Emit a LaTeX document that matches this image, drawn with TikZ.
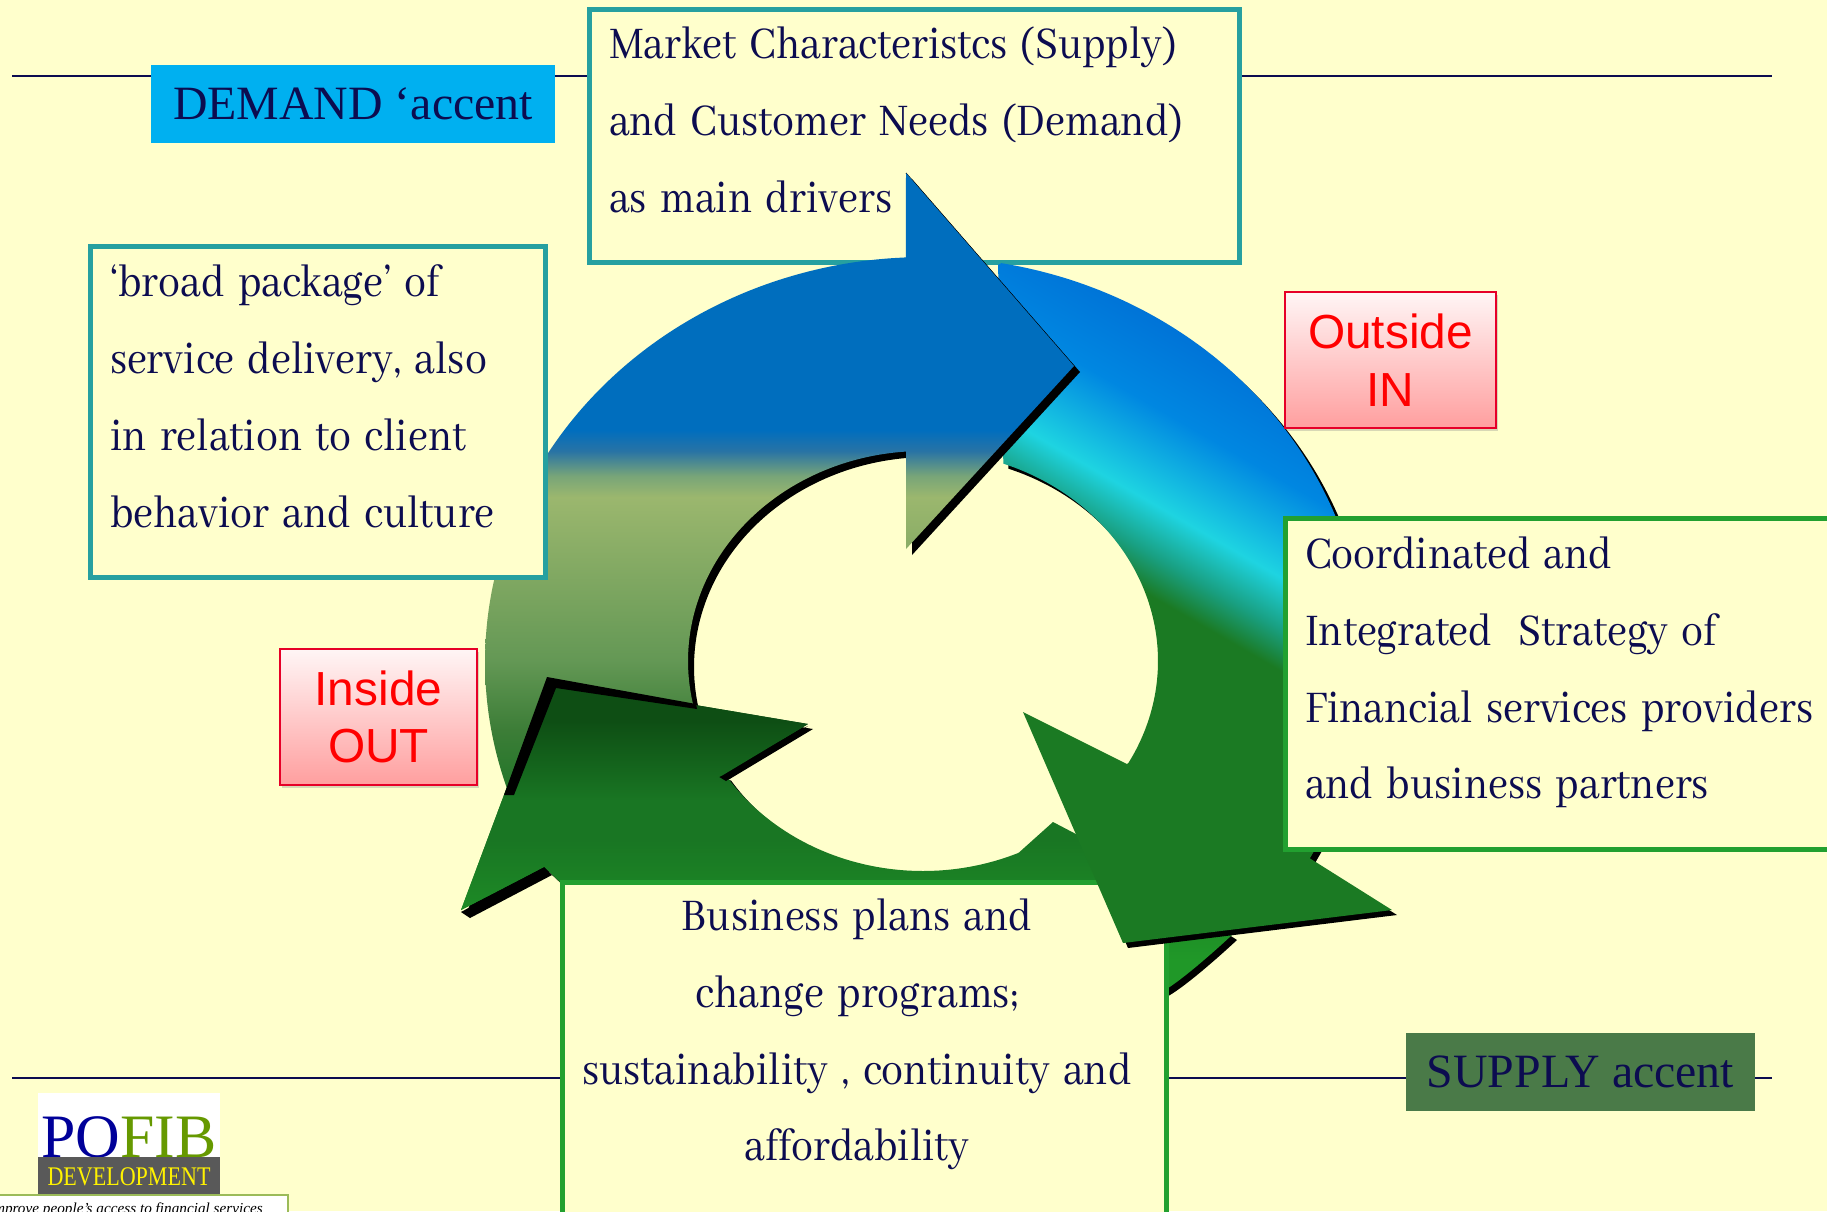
\documentclass[tikz,border=0pt]{standalone}
\usepackage{fontspec}
\usetikzlibrary{shadows}
\setmainfont{Liberation Serif}
\newfontfamily\bodyfont[WordSpace=1.6,FakeStretch=0.88]{Abhaya Libre}
\newfontfamily\armfont{Liberation Sans}
\newfontfamily\logofont[FakeStretch=0.82]{Liberation Serif}
\definecolor{cream}{RGB}{255,255,204}
\definecolor{navy}{RGB}{12,12,80}
\definecolor{tealb}{RGB}{38,160,160}
\definecolor{greenb}{RGB}{34,160,48}
\definecolor{redb}{RGB}{230,0,40}
\definecolor{cA}{RGB}{25,115,35}
\definecolor{cB}{RGB}{60,125,55}
\definecolor{cC}{RGB}{100,152,85}
\definecolor{cD}{RGB}{155,183,110}
\definecolor{cE}{RGB}{120,165,120}
\definecolor{cF}{RGB}{40,115,165}
\definecolor{cG}{RGB}{0,110,190}
\pgfdeclareverticalshading{bluegrad}{1827bp}{%
 color(0bp)=(cA); color(400bp)=(cA); color(481bp)=(cB); color(551bp)=(cC);
 color(714bp)=(cD); color(735bp)=(cE); color(760bp)=(cF); color(781bp)=(cG); color(1211bp)=(cG)}
\definecolor{dA}{RGB}{14,78,20}
\definecolor{dB}{RGB}{25,118,35}
\definecolor{dC}{RGB}{32,152,40}
\pgfdeclareverticalshading{bottomgrad}{1827bp}{%
 color(0bp)=(dC); color(251bp)=(dC); color(371bp)=(dB); color(411bp)=(dB); color(490bp)=(dA); color(1211bp)=(dA)}
\definecolor{eA}{RGB}{27,122,35}
\definecolor{eB}{RGB}{25,160,130}
\definecolor{eC}{RGB}{30,212,225}
\definecolor{eD}{RGB}{0,135,225}
\definecolor{eE}{RGB}{0,115,215}
\pgfdeclareverticalshading{rightgrad}{1600bp}{%
 color(0bp)=(eA); color(504bp)=(eA); color(540bp)=(eB); color(585bp)=(eC);
 color(670bp)=(eD); color(750bp)=(eE); color(1000bp)=(eE)}
\tikzset{
 frame/.style={draw,line width=5bp,fill=cream,anchor=north west,inner sep=0,outer sep=0},
 tealbox/.style={frame,draw=tealb},
 greenbox/.style={frame,draw=greenb},
 bodytext/.style={font=\bodyfont\fontsize{50}{77}\selectfont,text=navy,inner sep=0,outer sep=0,anchor=north west},
 accentbox/.style={anchor=north west,inner sep=0,outer sep=0,font=\fontsize{48}{58}\selectfont,text=navy},
 pinkbox/.style={draw=redb,line width=1.5bp,top color=white!85!pink,bottom color=red!40!white!85!pink,anchor=north west,inner sep=0,outer sep=0,
   font=\armfont\fontsize{48}{58}\selectfont,text=red,align=center,
   drop shadow={shadow xshift=2bp,shadow yshift=-3bp,opacity=.3}},
 rule/.style={draw=navy,line width=2bp},
 gradnode/.style={inner sep=0,outer sep=0},
 arcpts/.style={samples=50,smooth,variable=\t}
}
\newcommand{\bluearrow}{(906,173) -- (1074,366) -- (906,549) -- (906,451) -- plot[arcpts,domain=266:167] ({923+235*cos(\t)},{661+210*sin(\t)}) -- plot[arcpts,domain=162:267.5] ({925+440*cos(\t)},{662+405*sin(\t)}) -- cycle}
\newcommand{\rightarrowshape}{(998,265) -- plot[arcpts,domain=-80:29] ({925+440*cos(\t)},{662+405*sin(\t)}) -- (1392,910) -- (1123,943) -- (1023,712) -- (1127,764) -- plot[arcpts,domain=29:-70] ({923+235*cos(\t)},{661+210*sin(\t)}) -- cycle}
\newcommand{\bottomarrow}{(547,680) -- (808,724) -- (723,775) -- plot[arcpts,domain=147:66] ({923+235*cos(\t)},{661+210*sin(\t)}) -- (1053,822) -- (1074,833) -- (1232,935) -- plot[smooth] coordinates {(1232,935) (1165,990) (1060,1040) (900,1060) (700,1010) (562,884)} -- (544,867) -- (461,910) -- cycle}
\newcommand{\bottomhead}{(547,680) -- (808,724) -- (723,775) -- (544,867) -- (461,910) -- cycle}
\begin{document}
\begin{tikzpicture}[x=1bp,y=-1bp,line join=miter]
\useasboundingbox (0,0) rectangle (1827,1211);
\fill[cream] (0,0) rectangle (1827,1211);
% rules
\coordinate (t1) at (12,76); \coordinate (t2) at (1772,76);
\coordinate (b1) at (12,1078); \coordinate (b2) at (1772,1078);
\draw[rule] (t1) -- (t2);
\draw[rule] (b1) -- (b2);
% market box lies under the blue arrow
\node[tealbox,minimum width=650bp,minimum height=253bp] (market) at (589,9) {};
\node[bodytext,align=left] (markettext) at (609,27) {Market Characteristcs (Supply)\\and Customer Needs (Demand)\\as main drivers};
% bottom arrow
\fill[black,shift={(5,5)}] \bottomarrow;
\begin{scope}
 \clip \bottomarrow;
 \node[gradnode] (bg1) at (913.5,605.5) {\pgfuseshading{bottomgrad}};
\end{scope}
% business box
\node[greenbox,minimum width=604bp,minimum height=360bp] (business) at (562,882) {};
\node[bodytext,align=center,anchor=north] (businesstext) at (857,899) {Business plans and\\change programs;\\sustainability\ , continuity and\\affordability};
% right arrow
\fill[black,shift={(5,5)}] \rightarrowshape;
\begin{scope}
 \clip \rightarrowshape;
 \node[gradnode,rotate=-30] (bg2) at (1150,600) {\pgfuseshading{rightgrad}};
\end{scope}
% blue arrow
\fill[black,shift={(6,6)}] \bluearrow;
\draw[black,line width=.8bp] (906,173) -- (1074,366);
\begin{scope}
 \clip \bluearrow;
 \node[gradnode] (bg3) at (913.5,605.5) {\pgfuseshading{bluegrad}};
\end{scope}
% bottom head on top of blue tail
\fill[black] (808,726) -- (726,781) -- (716,775) -- cycle;
\fill[black] (461,912) -- (544,867) -- (552,875) -- (470,918) -- cycle;
\begin{scope}
 \clip \bottomhead;
 \node[gradnode] (bg4) at (913.5,605.5) {\pgfuseshading{bottomgrad}};
\end{scope}
\fill[black] (547,677) -- (696,704) -- (697,709) -- (556,688) -- (514,795) -- (504,795) -- cycle;
% other boxes
\node[tealbox,minimum width=455bp,minimum height=331bp] (broad) at (90,246) {};
\node[bodytext,align=left] (broadtext) at (110,265) {‘broad package’ of\\service delivery, also\\in relation to client\\behavior and culture};
\node[greenbox,minimum width=600bp,minimum height=331bp] (coord) at (1285,518) {};
\node[bodytext,align=left] (coordtext) at (1305,537) {Coordinated and\\Integrated\ \ Strategy of\\Financial services providers\\and business partners};
\node[accentbox,fill={rgb,255:red,0;green,176;blue,240},minimum width=404bp,minimum height=78bp] (demand) at (151,65) {DEMAND ‘accent};
\node[accentbox,fill={rgb,255:red,74;green,122;blue,72},minimum width=349bp,minimum height=78bp] (supply) at (1406,1033) {SUPPLY accent};
\node[pinkbox,minimum width=211bp,minimum height=136bp] (outside) at (1285,292) {Outside\\IN};
\node[pinkbox,minimum width=197bp,minimum height=136bp] (inside) at (280,649) {Inside\\OUT};
% logo
\fill[white] (38,1093) rectangle (220,1157);
\node[inner sep=0,anchor=base,font=\fontsize{62}{62}\selectfont] (pofib) at (129,1157) {\textcolor[RGB]{0,0,153}{PO}\textcolor[RGB]{102,153,0}{FIB}};
\fill[black!65] (38,1157) rectangle (220,1195);
\node[inner sep=0,anchor=base,font=\logofont\fontsize{27}{27}\selectfont,text=yellow] (dev) at (129,1185) {DEVELOPMENT};
\draw[fill=white,draw={rgb,255:red,155;green,187;blue,89},line width=1.2bp] (-5,1195) rectangle (288,1230);
\node[inner sep=0,anchor=base east,font=\itshape\fontsize{15.3}{16}\selectfont] (motto) at (263,1213) {improve people’s access to financial services};
\end{tikzpicture}
\end{document}
